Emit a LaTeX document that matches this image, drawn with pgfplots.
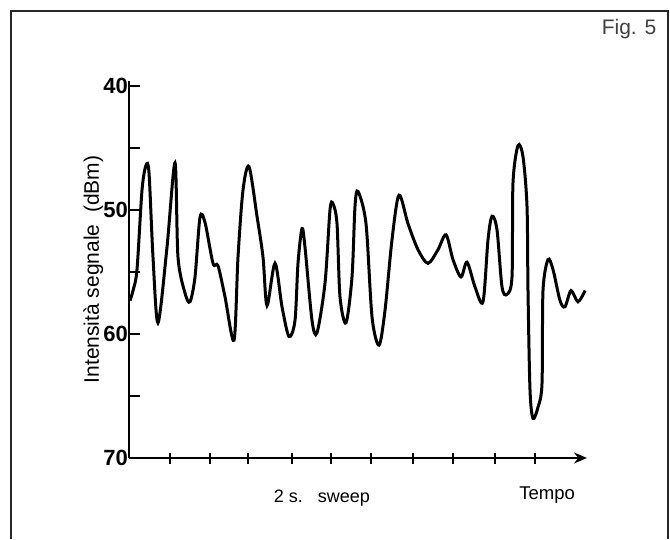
\documentclass[border=0pt]{standalone}
\usepackage{pgfplots}
\pgfplotsset{compat=1.18}
\usepackage{fontspec}
\setmainfont{Liberation Sans}
\usetikzlibrary{arrows.meta}

% signal trace: x in px from the y axis, y in dBm
\pgfplotstableread{
x    y
1    57.3
4    56.5
8    54.8
13   48.4
17   46.4
20   47.0
24   53.8
29   59.1
38   53.0
46   46.2
49   53.8
56   56.7
61   57.4
66   55.4
71   50.6
76   51.0
84   54.3
89   54.5
96   57.0
105  60.5
109  53.8
114  48.4
120  46.5
128  50.5
134  53.8
138  57.7
146  54.3
153  57.8
160  60.2
166  58.9
169  54.3
173  51.5
176  53.0
183  58.9
188  59.9
196  55.9
201  50.0
204  49.5
208  51.1
211  57.0
217  59.1
223  55.4
226  49.7
229  48.5
237  51.1
243  58.6
250  60.9
256  58.1
263  52.4
270  48.8
279  51.1
289  53.2
299  54.3
309  53.2
317  52.0
324  54.0
332  55.4
338  54.2
346  56.2
354  57.4
359  52.4
363  50.5
368  51.6
373  56.2
378  56.8
383  55.4
384  47.8
389  44.8
394  45.7
398  49.7
399  56.5
401  64.5
404  66.8
409  65.9
413  64.0
414  56.5
419  54.0
424  54.8
431  57.3
436  57.8
442  56.5
449  57.4
456  56.5
}\trace

\begin{document}
\begin{tikzpicture}
  \useasboundingbox (0,0) rectangle (670pt,539pt);
  % frame round the figure
  \draw[line width=1.4pt, black!85] (11pt,0) -- (11pt,528pt) -- (668pt,528pt) -- (668pt,0);
  \node[font=\fontsize{21}{21}\selectfont, text=black!75] at (629pt,510pt) {Fig. 5};
  \begin{axis}[
    at={(129pt,81pt)}, anchor=south west,
    x=1pt, y=12.4pt,
    y dir=reverse,
    xmin=0, xmax=458,
    ymin=39.6, ymax=70,
    axis x line=bottom, axis y line=left,
    x axis line style={line width=2.2pt, -{Stealth[length=13pt,width=11pt]}},
    y axis line style={line width=2pt, -},
    xtick={41,81,119,163,202,242,284,324,366,406},
    xticklabels={},
    ytick={40,45,50,55,60,65,70},
    yticklabels={40,,50,,60,,70},
    xtick align=center, ytick align=inside,
    major tick length=11pt,
    tick style={line width=1.8pt, black},
    yticklabel style={font=\fontsize{22}{22}\selectfont\bfseries, inner sep=1pt},
    ylabel={Intensità segnale \ (dBm)},
    ylabel style={at={(axis description cs:-0.078,0.5)}, anchor=center,
      font=\fontsize{21}{21}\selectfont},
    xlabel={2 s.\ \ \ sweep},
    xlabel style={at={(axis description cs:0.421,-0.106)}, anchor=center,
      font=\fontsize{18}{18}\selectfont},
    clip=false,
  ]
    \addplot[line width=3pt, black, smooth, tension=0.5] table[x=x, y=y] {\trace};
    \node[font=\fontsize{18.5}{18.5}\selectfont] at (axis description cs:0.913,-0.098) {Tempo};
  \end{axis}
\end{tikzpicture}
\end{document}
